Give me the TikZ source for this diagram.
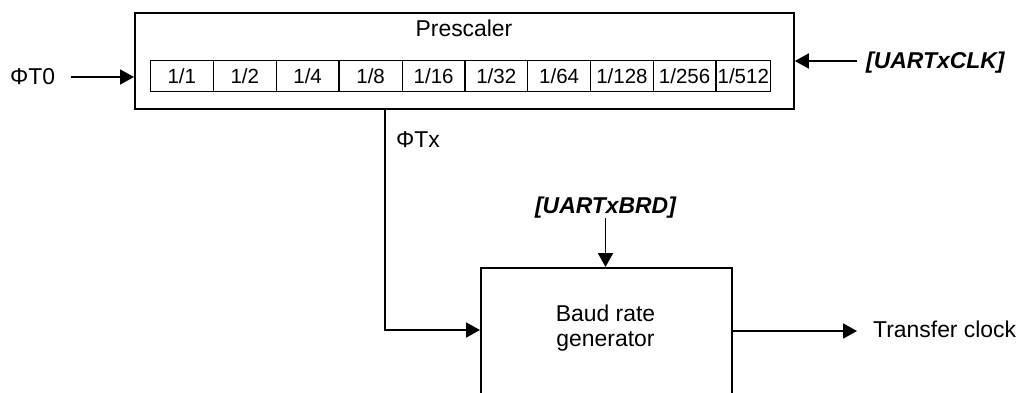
\documentclass[tikz,border=0pt]{standalone}
\usepackage{fontspec}
\setmainfont{Liberation Sans}
\usetikzlibrary{arrows.meta}
\begin{document}
\begin{tikzpicture}[x=1pt,y=-1pt,
  box/.style={draw, line width=1.8pt, inner sep=0pt, anchor=north west},
  cell/.style={draw, line width=1.2pt, inner sep=0pt, anchor=north west, minimum height=31pt, font=\fontsize{20.5}{22}\selectfont},
  lbl/.style={inner sep=0pt, font=\fontsize{22.9}{26}\selectfont},
  reg/.style={inner sep=0pt, font=\fontsize{22.9}{26}\selectfont\bfseries\itshape},
  arr/.style={line width=1.8pt, -{Triangle[length=14pt,width=15pt]}}]
\useasboundingbox (0,0) rectangle (1017,392);
\clip (0,0) rectangle (1017,392);
% Prescaler
\node[box, minimum width=659pt, minimum height=96pt] (pre) at (134,12) {};
\node[lbl, anchor=base] (prelbl) at (464,36.7) {Prescaler};
\node[cell, minimum width=63pt]   (c1)  at (149.7,60) {1/1};
\node[cell, minimum width=63pt]   (c2)  at (212.7,60) {1/2};
\node[cell, minimum width=62.6pt] (c3)  at (275.7,60) {1/4};
\node[cell, minimum width=63.4pt] (c4)  at (338.3,60) {1/8};
\node[cell, minimum width=62.6pt] (c5)  at (401.7,60) {1/16};
\node[cell, minimum width=62.7pt] (c6)  at (464.3,60) {1/32};
\node[cell, minimum width=63pt]   (c7)  at (527,60)   {1/64};
\node[cell, minimum width=62.7pt] (c8)  at (590,60)   {1/128};
\node[cell, minimum width=62.6pt] (c9)  at (652.7,60) {1/256};
\node[cell, minimum width=54.7pt] (c10) at (715.3,60) {1/512};
% inputs
\node[lbl, anchor=base west] (t0) at (10,84) {ΦT0};
\coordinate (t0s) at (70.7,77);
\draw[arr] (t0s) -- (pre.west |- t0s);
\node[reg, anchor=base west] (clk) at (866,68) {[UARTxCLK]};
\coordinate (clks) at (857,61);
\draw[arr] (clks) -- (pre.east |- clks);
% Baud rate generator
\node[box, minimum width=251pt, minimum height=170pt] (brg) at (480,267) {};
\node[lbl, anchor=base] (brg1) at (605.5,321.7) {Baud rate};
\node[lbl, anchor=base] (brg2) at (605.5,346.7) {generator};
\node[reg, anchor=base] (brd) at (605.5,213) {[UARTxBRD]};
\coordinate (brds) at (605.5,218);
\draw[arr] (brds) -- (brds |- brg.north);
% PhiTx
\coordinate (txs) at (385,108);
\coordinate (txc) at (385,330);
\node[lbl, anchor=base west] (tx) at (396,147.3) {ΦTx};
\draw[arr] (txs) -- (txc) -- (brg.west |- txc);
% output
\coordinate (outs) at (731,331);
\coordinate (oute) at (857,331);
\draw[arr] (outs) -- (oute);
\node[lbl, anchor=base west] (out) at (873,337.3) {Transfer clock};
\end{tikzpicture}
\end{document}
